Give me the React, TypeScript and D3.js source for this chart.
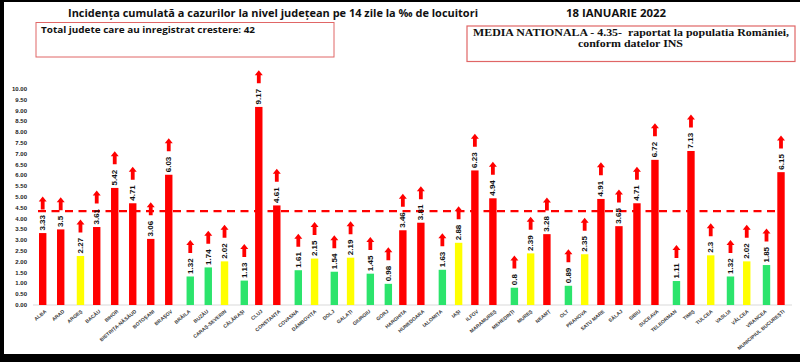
import React from "react";
import * as d3 from "d3";

const categories = [
  "ALBA", "ARAD", "ARGEȘ", "BACĂU", "BIHOR", "BISTRIȚA-NĂSĂUD", "BOTOȘANI", "BRAȘOV",
  "BRĂILA", "BUZĂU", "CARAȘ-SEVERIN", "CĂLĂRAȘI", "CLUJ", "CONSTANȚA", "COVASNA",
  "DÂMBOVIȚA", "DOLJ", "GALAȚI", "GIURGIU", "GORJ", "HARGHITA", "HUNEDOARA", "IALOMIȚA",
  "IAȘI", "ILFOV", "MARAMUREȘ", "MEHEDINȚI", "MUREȘ", "NEAMȚ", "OLT", "PRAHOVA",
  "SATU MARE", "SĂLAJ", "SIBIU", "SUCEAVA", "TELEORMAN", "TIMIȘ", "TULCEA", "VASLUI",
  "VÂLCEA", "VRANCEA", "MUNICIPIUL BUCUREȘTI",
];

const values = [
  3.33, 3.5, 2.27, 3.61, 5.42, 4.71, 3.06, 6.03,
  1.32, 1.74, 2.02, 1.13, 9.17, 4.61, 1.61,
  2.15, 1.54, 2.19, 1.45, 0.98, 3.46, 3.81, 1.63,
  2.88, 6.23, 4.94, 0.8, 2.39, 3.28, 0.89, 2.35,
  4.91, 3.65, 4.71, 6.72, 1.11, 7.13, 2.3, 1.32,
  2.02, 1.85, 6.15,
];

const nationalAverage = 4.35;
const yTickValues = [0, 0.5, 1, 1.5, 2, 2.5, 3, 3.5, 4, 4.5, 5, 5.5, 6, 6.5, 7, 7.5, 8, 8.5, 9, 9.5, 10];
const seriesNames = ["red", "yellow", "green"];
const seriesColors: Record<string, string> = { red: "#ff0000", yellow: "#ffff00", green: "#2ce46c" };

const titleText = "Incidența cumulată a cazurilor la nivel județean pe 14 zile la ‰ de locuitori";
const dateText = "18 IANUARIE 2022";
const totalText = "Total judete care au inregistrat crestere: 42";
const mediaLine1 = "MEDIA NATIONALA - 4.35-  raportat la populatia României,";
const mediaLine2 = "conform datelor INS";

function seriesOf(v: number): string {
  if (v < 2) return "green";
  if (v < 3) return "yellow";
  return "red";
}

let ctx: CanvasRenderingContext2D | null = null;
function measure(text: string, font: string): number {
  if (!ctx) ctx = document.createElement("canvas").getContext("2d");
  if (!ctx) return text.length * 4.5;
  ctx.font = font;
  return ctx.measureText(text).width;
}

export default function App() {
  const W = 800;
  const H = 362;
  const y = d3.scaleLinear().domain([0, 10]).range([305, 89]);
  const x = d3.scalePoint<string>().domain(categories).range([42.7, 781]);
  const sub = d3.scalePoint<string>().domain(seriesNames).range([0, 3.5]);
  const barW = 7.4;
  const labelFont = "bold 8px 'Liberation Sans'";

  return (
    <div style={{ position: "absolute", left: 0, top: 0 }}>
      <svg width={W} height={H} style={{ display: "block", background: "#fff" }}>
        {/* frame */}
        <rect x={0} y={0} width={W} height={2} fill="#000" />
        <rect x={0} y={0} width={4} height={H} fill="#000" />
        <rect x={0} y={354} width={W} height={H - 354} fill="#000" />

        {/* title */}
        <text x={68} y={17} fontFamily="'Open Sans', sans-serif" fontWeight="bold" fontSize={10.5}
          textLength={410} lengthAdjust="spacingAndGlyphs" fill="#111">{titleText}</text>
        <text x={566} y={17} fontFamily="'Open Sans', sans-serif" fontWeight="bold" fontSize={10.5}
          textLength={100} lengthAdjust="spacingAndGlyphs" fill="#111">{dateText}</text>

        {/* info box 1 */}
        <rect x={36} y={22.5} width={298} height={34.5} fill="none" stroke="#e06666" strokeWidth={1} />
        <text x={41} y={33} fontFamily="'Open Sans', sans-serif" fontWeight="bold" fontSize={9}
          textLength={214} lengthAdjust="spacingAndGlyphs" fill="#111">{totalText}</text>

        {/* info box 2 */}
        <rect x={467} y={26} width={328} height={35.5} fill="none" stroke="#e06666" strokeWidth={1.2} />
        <text x={473} y={36} fontFamily="'Liberation Serif', serif" fontWeight="bold" fontSize={10.5}
          textLength={316} lengthAdjust="spacingAndGlyphs" fill="#111" style={{ whiteSpace: "pre" }}>{mediaLine1}</text>
        <text x={578} y={47} fontFamily="'Liberation Serif', serif" fontWeight="bold" fontSize={10.5}
          textLength={105} lengthAdjust="spacingAndGlyphs" fill="#111">{mediaLine2}</text>

        {/* y tick labels */}
        {yTickValues.map((t) => (
          <text key={t} x={27} y={y(t)} textAnchor="end" dominantBaseline="central"
            fontFamily="'Liberation Sans', sans-serif" fontWeight="bold" fontSize={6} fill="#222">
            {t.toFixed(2)}
          </text>
        ))}

        {/* x axis line */}
        <line x1={33} x2={792} y1={y(0)} y2={y(0)} stroke="#d9d9d9" strokeWidth={1} />

        {/* bars */}
        {categories.map((c, i) => {
          const v = values[i];
          const s = seriesOf(v);
          const cx = (x(c) as number) + (sub(s) as number);
          return (
            <rect key={c} x={cx - barW / 2} y={y(v)} width={barW} height={y(0) - y(v)} fill={seriesColors[s]} />
          );
        })}

        {/* national average */}
        <line x1={38} x2={776} y1={y(nationalAverage)} y2={y(nationalAverage)} stroke="#ff0000"
          strokeWidth={2.2} strokeDasharray="8,5.5" />

        {/* value labels and arrows */}
        {categories.map((c, i) => {
          const v = values[i];
          const s = seriesOf(v);
          const cx = (x(c) as number) + (sub(s) as number);
          const top = y(v);
          const label = String(v);
          const len = measure(label, labelFont);
          const labelStart = top - 2.5;
          const arrowBottom = labelStart - len - 5.5;
          const arrowTop = arrowBottom - 13;
          const headBase = arrowTop + 5;
          const p = d3.path();
          p.moveTo(cx, arrowTop);
          p.lineTo(cx + 4, headBase);
          p.lineTo(cx + 1.9, headBase);
          p.lineTo(cx + 1.9, arrowBottom);
          p.lineTo(cx - 1.9, arrowBottom);
          p.lineTo(cx - 1.9, headBase);
          p.lineTo(cx - 4, headBase);
          p.closePath();
          return (
            <g key={c}>
              <text transform={`translate(${cx},${labelStart}) rotate(-90)`} dominantBaseline="central"
                fontFamily="'Liberation Sans', sans-serif" fontWeight="bold" fontSize={8} fill="#111">
                {label}
              </text>
              <path d={p.toString()} fill="#ff0000" />
            </g>
          );
        })}

        {/* x labels */}
        {categories.map((c) => {
          const cx = x(c) as number;
          return (
            <text key={c} transform={`translate(${cx + 4},${y(0) + 7}) rotate(-40)`} textAnchor="end"
              fontFamily="'Liberation Sans', sans-serif" fontWeight="bold" fontSize={5} fill="#3a3a3a">
              {c}
            </text>
          );
        })}
      </svg>
    </div>
  );
}
